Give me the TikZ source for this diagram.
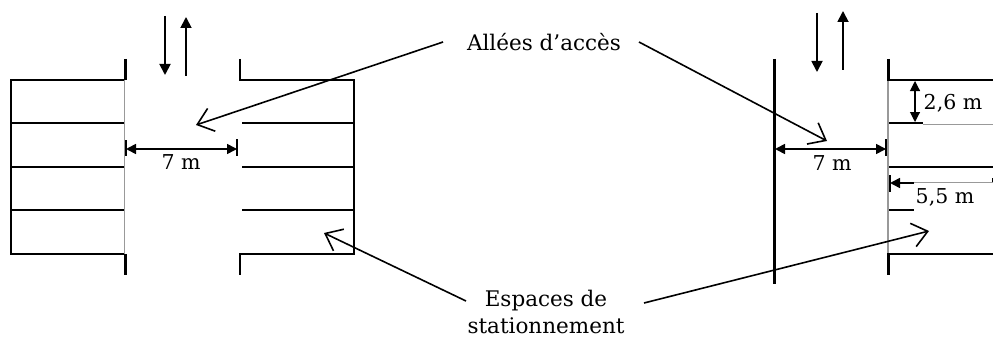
\documentclass[tikz,border=0pt]{standalone}
\usepackage{fontspec}
\setmainfont{DejaVu Serif}
\usetikzlibrary{arrows.meta}
\tikzset{
  wall/.style={line width=2.1pt,black},
  thin wall/.style={line width=1.7pt,black},
  pale/.style={line width=1.2pt,black!40},
  flow/.style={line width=1.8pt,-{Triangle[length=11pt,width=11pt]}},
  dim/.style={line width=1.7pt,{Triangle[length=10pt,width=10pt]}-{Triangle[length=10pt,width=10pt]}},
  dimone/.style={line width=1.6pt,-{Triangle[length=10pt,width=10pt]}},
  callout/.style={line width=1.6pt,-{Straight Barb[length=15pt,width=24pt,line width=1.6pt]}},
  lbl/.style={inner sep=0pt,font=\fontsize{21.5}{27}\selectfont,align=center},
  dimlbl/.style={inner sep=0pt,font=\fontsize{20.5}{24}\selectfont}
}
\begin{document}
\begin{tikzpicture}[x=1pt,y=-1pt]
\useasboundingbox (0,0) rectangle (993,337);
% left parking
\draw[pale] (124.5,80) -- (124.5,254);
\draw[wall] (125.5,59) -- (125.5,80);
\draw[wall] (125.5,254) -- (125.5,275);
\draw[wall] (124,80) -- (11,80) -- (11,254) -- (124,254);
\foreach \y in {123,167,210} \draw[thin wall] (11,\y) -- (124,\y);
\draw[wall] (240,59) -- (240,80) -- (354,80) -- (354,254) -- (240,254) -- (240,275);
\foreach \y in {123,167,210} \draw[thin wall] (242,\y) -- (354,\y);
% right parking
\draw[wall] (774.5,59) -- (774.5,284);
\draw[pale] (888,80) -- (888,254);
\draw[wall] (888.5,59) -- (888.5,80) -- (993,80);
\draw[wall] (993,254) -- (888.5,254) -- (888.5,275);
\draw[thin wall] (889,123) -- (923,123);
\draw[line width=1pt,black!40] (923,124) -- (993,124);
\draw[wall] (889,167) -- (993,167);
\draw[line width=1pt,black!40] (914,182.5) -- (993,182.5);
\draw[thin wall] (889,210) -- (914,210);
% flow arrows
\coordinate (fa1) at (165,16); \coordinate (fa2) at (165,75);
\coordinate (fb1) at (186,76); \coordinate (fb2) at (186,17);
\coordinate (fc1) at (817,13); \coordinate (fc2) at (817,72);
\coordinate (fd1) at (843,70); \coordinate (fd2) at (843,11);
\draw[flow] (fa1) -- (fa2);
\draw[flow] (fb1) -- (fb2);
\draw[flow] (fc1) -- (fc2);
\draw[flow] (fd1) -- (fd2);
% dimensions
\coordinate (d1a) at (126,149); \coordinate (d1b) at (237,149);
\coordinate (d2a) at (775,149); \coordinate (d2b) at (886,149);
\draw[dim] (d1a) -- (d1b);
\draw[dim] (d2a) -- (d2b);
\draw[thin wall] (126,140) -- (126,156);
\draw[thin wall] (237,139) -- (237,156);
\draw[thin wall] (886,139) -- (886,156);
\coordinate (d3a) at (915,81); \coordinate (d3b) at (915,122);
\draw[dim,line width=1.1pt] (d3a) -- (d3b);
\coordinate (d4a) at (914,183); \coordinate (d4b) at (890,183);
\draw[dimone] (d4a) -- (d4b);
\draw[thin wall] (890,175) -- (890,192);
\draw[thin wall] (992.5,178) -- (992.5,182);
\node[dimlbl] (m1) at (181,162) {7 m};
\node[dimlbl] (m2) at (832,163) {7 m};
\node[dimlbl] (m3) at (953,103) {2,6 m};
\node[dimlbl] (m4) at (945,197) {5,5 m};
% labels and callouts
\node[lbl] (allees) at (544,42) {Allées d’accès};
\node[lbl] (espaces) at (546,311.5) {Espaces de\\stationnement};
\coordinate (a1s) at (443,42); \coordinate (a1e) at (196,125);
\coordinate (a2s) at (639,42); \coordinate (a2e) at (827,141);
\coordinate (e1s) at (466,301); \coordinate (e1e) at (324,233);
\coordinate (e2s) at (644,303); \coordinate (e2e) at (929,231);
\draw[callout] (a1s) -- (a1e);
\draw[callout] (a2s) -- (a2e);
\draw[callout] (e1s) -- (e1e);
\draw[callout] (e2s) -- (e2e);
\end{tikzpicture}
\end{document}
